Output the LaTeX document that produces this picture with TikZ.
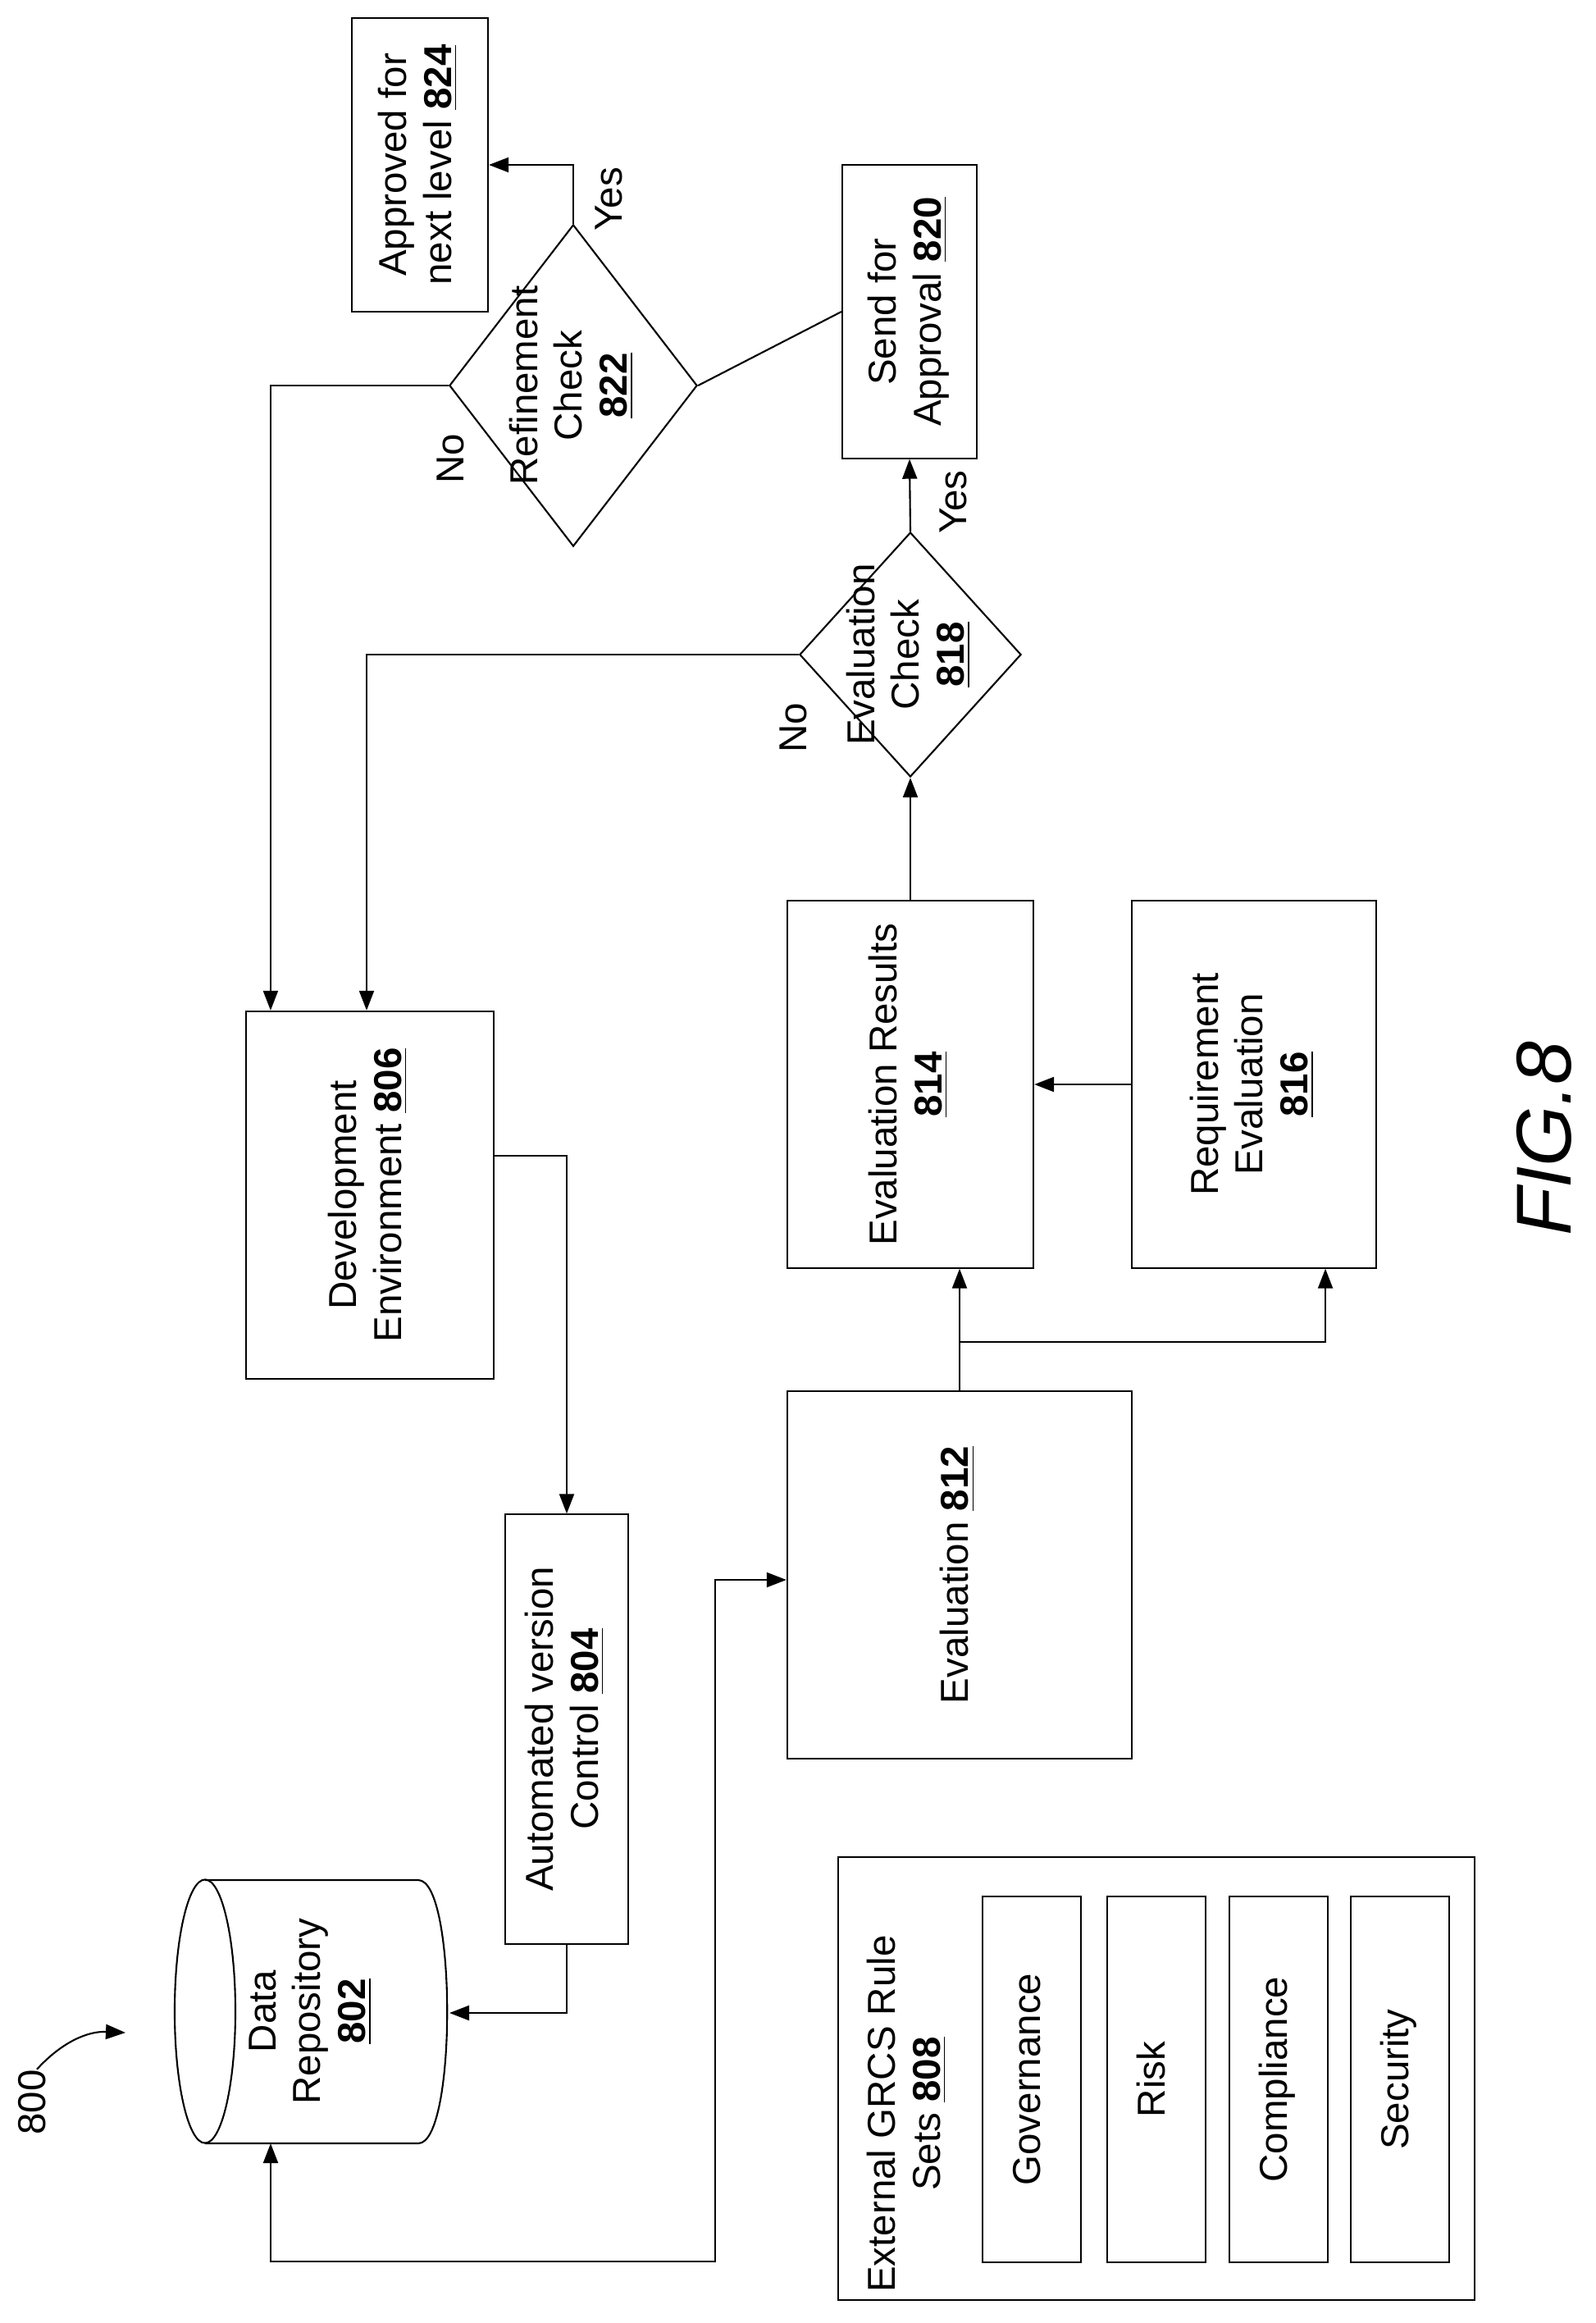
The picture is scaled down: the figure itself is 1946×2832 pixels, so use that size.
\documentclass[tikz,border=0pt]{standalone}
\usepackage{fontspec}
\setmainfont{Liberation Sans}
\usetikzlibrary{arrows.meta, shapes.geometric}
\newcommand{\vt}[1]{\rotatebox{90}{\begin{tabular}{@{}c@{}}#1\end{tabular}}}
\newcommand{\num}[1]{\underline{\textbf{#1}}}
\tikzset{
  box/.style={draw, line width=0.6pt, inner sep=0pt},
  decision/.style={draw, diamond, line width=0.6pt, inner sep=0pt, aspect=0.8},
  arr/.style={line width=0.6pt, -{Triangle[length=0.24cm,width=0.18cm]}},
  line/.style={line width=0.6pt},
  lbl/.style={inner sep=0pt}
}
\begin{document}
\begin{tikzpicture}[x=0.01cm, y=-0.01cm, font=\fontsize{13.5}{15.5}\selectfont]
\useasboundingbox (0,0) rectangle (1946,2832);

% boxes
\node[box, minimum width=1.66cm, minimum height=3.58cm] (n824) at (512,201) {\vt{Approved for\\next level \num{824}}};
\node[box, minimum width=1.64cm, minimum height=3.57cm] (n820) at (1109,380) {\vt{Send for\\Approval \num{820}}};
\node[decision, minimum width=3.02cm, minimum height=3.92cm] (n822) at (699,470) {};
\node at (n822) {\vt{Refinement\\Check\\\num{822}}};
\node[decision, minimum width=2.70cm, minimum height=2.98cm] (n818) at (1110,798) {};
\node at (n818) {\vt{Evaluation\\Check\\\num{818}}};
\node[box, minimum width=3.01cm, minimum height=4.48cm] (n806) at (451,1457) {\vt{Development\\Environment \num{806}}};
\node[box, minimum width=3.00cm, minimum height=4.47cm] (n814) at (1110,1322) {\vt{Evaluation Results\\\num{814}}};
\node[box, minimum width=2.98cm, minimum height=4.47cm] (n816) at (1529,1322) {\vt{Requirement\\Evaluation\\\num{816}}};
\node[box, minimum width=4.20cm, minimum height=4.47cm] (n812) at (1170,1920) {\vt{Evaluation \num{812}}};
\node[box, minimum width=1.50cm, minimum height=5.23cm] (n804) at (691,2108) {\vt{Automated version\\Control \num{804}}};

% rule sets
\node[box, minimum width=7.76cm, minimum height=5.39cm] (n808) at (1410,2534) {};
\node (t808) at (1108,2577) {\vt{External GRCS Rule\\Sets \num{808}}};
\foreach \x/\t [count=\i] in {1258/Governance, 1410/Risk, 1559/Compliance, 1707/Security}
  \node[box, minimum width=1.20cm, minimum height=4.45cm] (g\i) at (\x,2535) {\vt{\t}};

% data repository
\draw[line] (250,2292) -- (510,2292) .. controls (557,2292) and (557,2613) .. (510,2613) -- (250,2613);
\draw[line] (250,2452) ellipse [x radius=0.37cm, y radius=1.605cm];
\node (n802) at (380,2452) {\vt{Data\\Repository\\\num{802}}};
\coordinate (r802) at (548,2454);
\coordinate (b802) at (330,2613);

% connectors
\draw[arr] ([yshift=0.48cm]n806.east) -| (n804.north);
\draw[arr] (n804.south) |- (r802);
\coordinate (j1) at (872,2757);
\draw[line, {Triangle[length=0.24cm,width=0.18cm]}-{Triangle[length=0.24cm,width=0.18cm]}] (b802) |- (j1) |- ([yshift=-0.06cm]n812.west);
\draw[arr] (n812.north) -- (n812.north |- n814.south);
\coordinate (j2) at (1171,1636);
\draw[arr] (j2) -| ([xshift=0.87cm]n816.south);
\draw[arr] (n816.west) -- (n814.east);
\draw[arr] (n814.north) -- (n818.south);
\draw[arr] (n818.north) -- (n820.south);
\draw[arr] (n818.west) -| ([xshift=-0.04cm]n806.north);
\draw[arr] (n822.west) -| ([xshift=-1.21cm]n806.north);
\draw[line] (n820.west) -- (n822.east);
\draw[arr] (n822.north) |- (n824.east);

% labels
\node[lbl] at (1168,612) {\vt{Yes}};
\node[lbl] at (748,243) {\vt{Yes}};
\node[lbl] at (973,887) {\vt{No}};
\node[lbl] at (555,559) {\vt{No}};

\node[lbl] (n800) at (45,2563) {\vt{800}};
\coordinate (a800) at (153,2478);
\draw[arr] (n800.north) to[bend left=25] (a800);

\node[lbl, font=\fontsize{27}{27}\selectfont\itshape] (fig) at (1883,1388) {\rotatebox{90}{FIG.8}};
\end{tikzpicture}
\end{document}
